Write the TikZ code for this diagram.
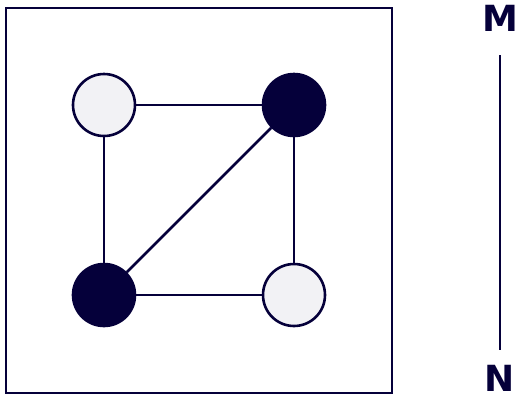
\documentclass[tikz,border=0pt]{standalone}
\usepackage{fontspec}
\setmainfont{DejaVu Sans}
\definecolor{navy}{HTML}{05003A}
\definecolor{light}{HTML}{F2F2F5}
\begin{document}
\begin{tikzpicture}[x=1pt,y=-1pt,
  vtx/.style={circle,draw=navy,line width=2.6pt,minimum size=62pt,inner sep=0pt},
  lightv/.style={vtx,fill=light},
  darkv/.style={vtx,fill=navy},
  edge/.style={draw=navy,line width=2.6pt},
  lbl/.style={text=navy,font=\fontsize{36}{36}\selectfont\bfseries,inner sep=0pt}]
\useasboundingbox (0,0) rectangle (520,400);
\draw[navy,line width=2.6pt] (6,8) rectangle (392,393);
\node[lightv] (a) at (104,105) {};
\node[darkv] (b) at (294,105) {};
\node[darkv] (c) at (104,295) {};
\node[lightv] (d) at (294,295) {};
\draw[edge] (a) -- (b);
\draw[edge] (a) -- (c);
\draw[edge] (b) -- (d);
\draw[edge] (c) -- (d);
\draw[edge] (c) -- (b);
\node[lbl] (m) at (500,18) {M};
\node[lbl] (n) at (500,378) {N};
\coordinate (t) at (500,55);
\coordinate (s) at (500,350);
\draw[edge] (t) -- (s);
\end{tikzpicture}
\end{document}
